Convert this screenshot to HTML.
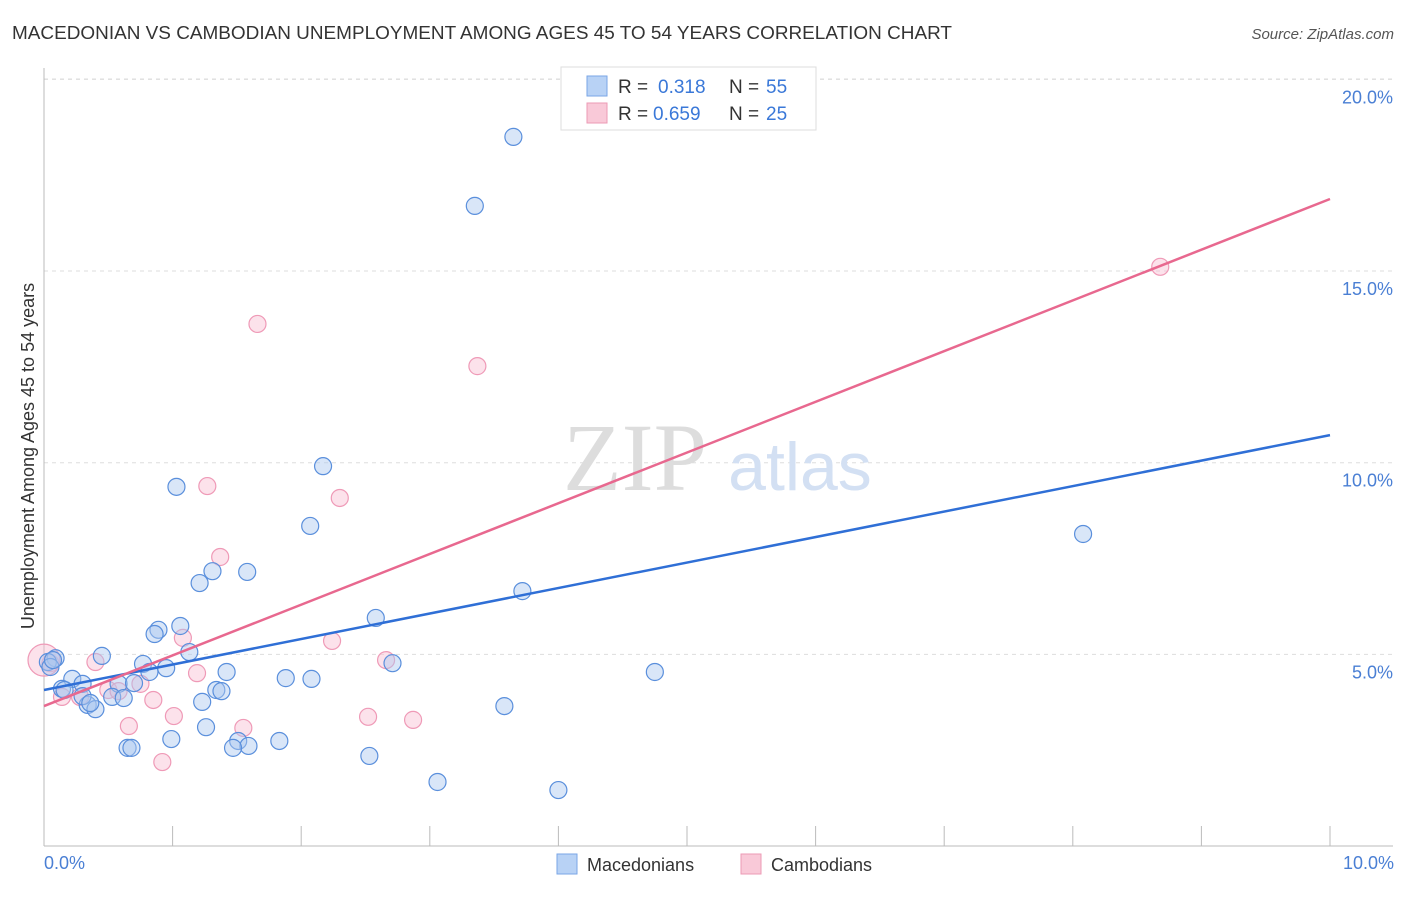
<!DOCTYPE html>
<html><head><meta charset="utf-8"><style>
body{margin:0;background:#fff;font-family:"Liberation Sans",sans-serif}
</style></head><body>
<svg width="1406" height="892" font-family="Liberation Sans, sans-serif">
<text x="12" y="39" font-size="18" fill="#333" textLength="940" lengthAdjust="spacingAndGlyphs">MACEDONIAN VS CAMBODIAN UNEMPLOYMENT AMONG AGES 45 TO 54 YEARS CORRELATION CHART</text>
<text x="1394" y="39" font-size="15" fill="#555" text-anchor="end" font-style="italic">Source: ZipAtlas.com</text>
<g id="grid"></g>
<text x="635" y="490" font-size="96" fill="#ddd" font-family="Liberation Serif, serif" text-anchor="middle">ZIP</text>
<text x="800" y="490" font-size="68" fill="#d3e0f3" text-anchor="middle">atlas</text>
<g id="pts"></g>
<g id="lines"></g>
<text transform="translate(34,456) rotate(-90)" font-size="18" fill="#333" text-anchor="middle">Unemployment Among Ages 45 to 54 years</text>
<text x="44" y="869" font-size="18" fill="#4a7fd4">0.0%</text>
<text x="1394" y="869" font-size="18" fill="#4a7fd4" text-anchor="end">10.0%</text>
<g font-size="19">
<rect x="561" y="67" width="255" height="63" fill="#fff" stroke="#ddd"/>
<rect x="587" y="76" width="20" height="20" fill="#b8d2f5" stroke="#7aa6e6"/>
<rect x="587" y="103" width="20" height="20" fill="#f9c9d8" stroke="#ec9ab5"/>
<text x="618" y="93" fill="#333">R =</text><text x="658" y="93" fill="#3a78d8">0.318</text>
<text x="729" y="93" fill="#333">N =</text><text x="766" y="93" fill="#3a78d8">55</text>
<text x="618" y="120" fill="#333">R =</text><text x="653" y="120" fill="#3a78d8">0.659</text>
<text x="729" y="120" fill="#333">N =</text><text x="766" y="120" fill="#3a78d8">25</text>
</g>
<g>
<rect x="557" y="854" width="20" height="20" fill="#b8d2f5" stroke="#7aa6e6"/>
<text x="587" y="871" font-size="18" fill="#333">Macedonians</text>
<rect x="741" y="854" width="20" height="20" fill="#f9c9d8" stroke="#ec9ab5"/>
<text x="771" y="871" font-size="18" fill="#333">Cambodians</text>
</g>
</svg>
<script>
const yTicks=[5,10,15,20];
const yTickLabels=["5.0%","10.0%","15.0%","20.0%"];
const xTicks=[0,1,2,3,4,5,6,7,8,9,10];
const blueX=[3.65,3.35,2.17,1.03,2.07,8.08,1.31,1.58,1.21,3.72,2.58,1.06,0.89,0.86,1.13,0.45,0.09,0.03,0.05,0.77,0.95,0.82,1.42,2.71,4.75,1.88,2.08,0.22,0.30,0.58,0.70,0.14,1.34,1.38,0.53,0.62,1.23,0.34,0.40,3.58,1.26,0.99,1.51,1.83,1.59,1.47,0.65,0.68,2.53,3.06,4.00,0.07,0.16,0.30,0.36];
const blueY=[18.5,16.7,9.91,9.37,8.35,8.14,7.17,7.15,6.86,6.65,5.95,5.74,5.64,5.53,5.06,4.96,4.9,4.8,4.67,4.75,4.64,4.54,4.54,4.77,4.54,4.38,4.36,4.36,4.23,4.23,4.25,4.1,4.07,4.04,3.89,3.86,3.76,3.68,3.57,3.65,3.1,2.79,2.74,2.74,2.61,2.56,2.56,2.56,2.35,1.67,1.46,4.85,4.07,3.91,3.73];
const pinkX=[1.66,3.37,8.68,1.27,2.30,1.37,1.08,2.24,0.05,0.40,2.66,1.19,0.75,0.50,0.85,0.14,0.28,1.01,2.52,2.87,0.66,1.55,0.92,0.0,0.58];
const pinkY=[13.62,12.52,15.11,9.39,9.08,7.54,5.43,5.35,4.77,4.8,4.85,4.51,4.23,4.07,3.81,3.89,3.89,3.39,3.37,3.29,3.13,3.08,2.19,4.85,4.04];
const blueFit=[4.07,10.72];
const pinkFit=[3.65,16.88];
const NS="http://www.w3.org/2000/svg";
const sx=v=>44+v*128.6, sy=v=>846-v*38.33;
function mk(t,a,p){const e=document.createElementNS(NS,t);for(const k in a)e.setAttribute(k,a[k]);p.appendChild(e);return e;}
const g=document.getElementById('grid');
yTicks.forEach((t,i)=>{
 const l=mk('line',{x1:44,x2:1393,y1:sy(t),y2:sy(t),stroke:'#ddd','stroke-dasharray':'4,4'},g);
 
 
 const tx=mk('text',{x:1393,y:sy(t)+24,'font-size':18,fill:'#4a7fd4','text-anchor':'end'},g);
 tx.textContent=yTickLabels[i];
 
 
});
const topGrid=mk('line',{x1:44,x2:1393,y1:79,y2:79,stroke:'#ddd','stroke-dasharray':'4,4'},g);


const ax=mk('line',{x1:44,x2:1393,y1:846,y2:846,stroke:'#bbb'},g);


const ay=mk('line',{x1:44,x2:44,y1:68,y2:846,stroke:'#bbb'},g);


xTicks.forEach(t=>{
 const l=mk('line',{x1:sx(t),x2:sx(t),y1:826,y2:846,stroke:'#bbb'},g);
 
 
});
const P=document.getElementById('pts');
pinkX.forEach((x,i)=>{
 const c=mk('circle',{cx:sx(x),cy:sy(pinkY[i]),r:i==23?16:8.5,fill:'rgba(248,190,210,0.45)',stroke:'#ef9ab7','stroke-width':1.2},P);
 
 
});
blueX.forEach((x,i)=>{
 const c=mk('circle',{cx:sx(x),cy:sy(blueY[i]),r:8.5,fill:'rgba(170,200,240,0.45)',stroke:'#5a8fdc','stroke-width':1.2},P);
 
 
});
const L=document.getElementById('lines');
const bl=mk('line',{x1:sx(0),y1:sy(blueFit[0]),x2:sx(10),y2:sy(blueFit[1]),stroke:'#2f6fd6','stroke-width':2.5},L);


const pl=mk('line',{x1:sx(0),y1:sy(pinkFit[0]),x2:sx(10),y2:sy(pinkFit[1]),stroke:'#e8688f','stroke-width':2.5},L);


</script>
</body></html>
